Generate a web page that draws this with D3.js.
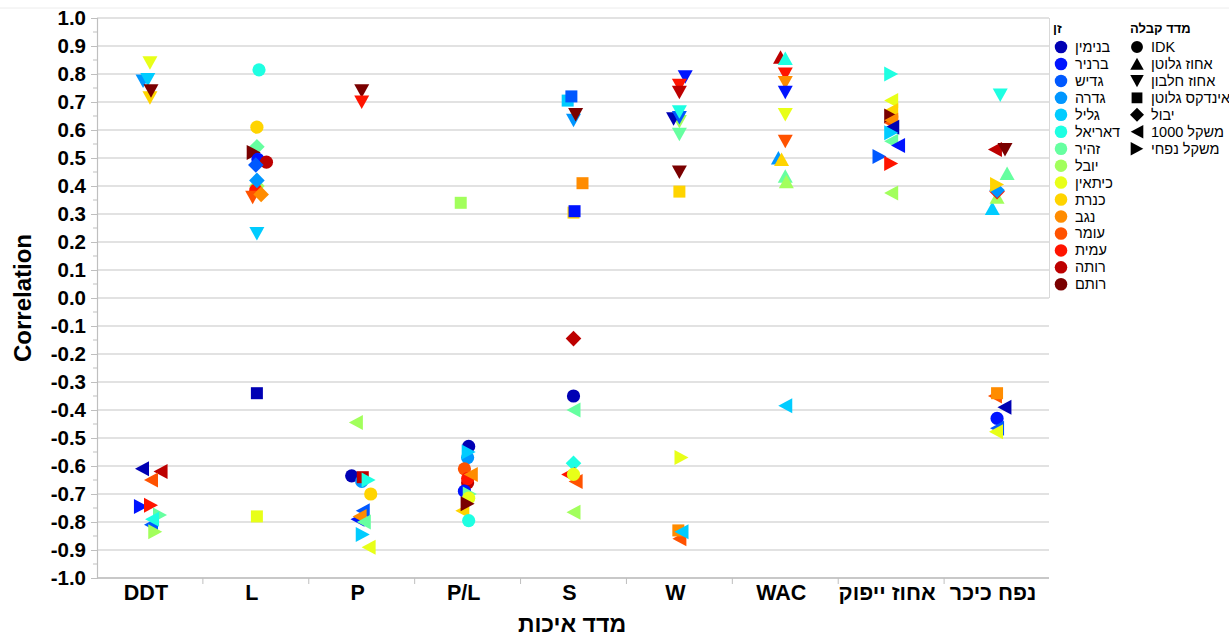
<!DOCTYPE html>
<html><head><meta charset="utf-8">
<script src="https://cdn.jsdelivr.net/npm/d3@7"></script>
<style>body{margin:0;background:#fff;}svg{display:block;font-family:"Liberation Sans",Arial,sans-serif;}</style>
</head><body>
<svg id="chart" width="1229" height="637"></svg>
<script>
// ---------- data ----------
const categories = ["DDT","L","P","P/L","S","W","WAC","אחוז ייפוק","נפח כיכר"];
const varieties = ["בנימין","ברניר","גדיש","גדרה","גליל","דאריאל","זהיר","יובל","כיתאין","כנרת","נגב","עומר","עמית","רותה","רותם"];
const varietyColors = ["#0000b4","#0014ff","#0058ff","#0096ff","#00ccff","#1effe2","#66ffa0","#a2ff5c","#e8ff18","#ffd400","#ff8c00","#ff5200","#ff1400","#bd0000","#7a0000"];
const measures = ["IDK","אחוז גלוטן","אחוז חלבון","אינדקס גלוטן","יבול","משקל 1000","משקל נפחי"];
const measureShapes = ["circle","up","down","square","diamond","left","right"];
const yTickValues = d3.range(-10, 11).map(i => i / 10);
const xTitle = "מדד איכות";
const yTitle = "Correlation";
const legendTitles = ["זן", "מדד קבלה"];

// [category, variety, measure, correlation, x offset within category (fraction of category width)]
// listed in drawing order (later = on top)
const points = [
  ["DDT","כיתאין","אחוז חלבון",0.84,0],
  ["DDT","גדרה","אחוז חלבון",0.775,-0.065],
  ["DDT","גליל","אחוז חלבון",0.78,-0.02],
  ["DDT","כנרת","אחוז חלבון",0.715,0],
  ["DDT","רותם","אחוז חלבון",0.74,0.01],
  ["DDT","בנימין","משקל 1000",-0.61,-0.075],
  ["DDT","רותה","משקל 1000",-0.62,0.10],
  ["DDT","עומר","משקל 1000",-0.65,0.01],
  ["DDT","ברניר","משקל נפחי",-0.745,-0.085],
  ["DDT","עמית","משקל נפחי",-0.74,0.01],
  ["DDT","גדיש","משקל 1000",-0.81,0.01],
  ["DDT","זהיר","משקל נפחי",-0.775,0.095],
  ["DDT","דאריאל","משקל 1000",-0.79,0.02],
  ["DDT","יובל","משקל נפחי",-0.835,0.05],

  ["L","דאריאל","IDK",0.815,0.03],
  ["L","כנרת","IDK",0.61,0.01],
  ["L","זהיר","יבול",0.54,0.01],
  ["L","רותם","משקל נפחי",0.52,-0.02],
  ["L","ברניר","IDK",0.495,0.02],
  ["L","רותה","IDK",0.485,0.10],
  ["L","גדיש","יבול",0.475,0],
  ["L","יובל","יבול",0.40,0.01],
  ["L","עמית","IDK",0.385,0],
  ["L","גדרה","יבול",0.42,0.01],
  ["L","עומר","אחוז חלבון",0.36,-0.03],
  ["L","נגב","יבול",0.37,0.05],
  ["L","גליל","אחוז חלבון",0.23,0.01],
  ["L","בנימין","אינדקס גלוטן",-0.34,0.01],
  ["L","כיתאין","אינדקס גלוטן",-0.78,0.01],

  ["P","רותם","אחוז חלבון",0.74,0],
  ["P","עמית","אחוז חלבון",0.70,0],
  ["P","יובל","משקל 1000",-0.445,-0.055],
  ["P","בנימין","IDK",-0.635,-0.095],
  ["P","גדרה","IDK",-0.655,0],
  ["P","רותה","אינדקס גלוטן",-0.64,0.01],
  ["P","דאריאל","משקל נפחי",-0.65,0.065],
  ["P","כנרת","IDK",-0.70,0.085],
  ["P","ברניר","משקל 1000",-0.79,-0.04],
  ["P","גדיש","משקל 1000",-0.76,0.01],
  ["P","נגב","משקל 1000",-0.78,-0.02],
  ["P","זהיר","משקל 1000",-0.80,0.02],
  ["P","גליל","משקל נפחי",-0.845,0.01],
  ["P","כיתאין","משקל 1000",-0.89,0.065],

  ["P/L","יובל","אינדקס גלוטן",0.34,-0.065],
  ["P/L","גדרה","IDK",-0.57,0],
  ["P/L","בנימין","IDK",-0.53,0.01],
  ["P/L","גליל","משקל נפחי",-0.55,0.01],
  ["P/L","עומר","IDK",-0.61,-0.03],
  ["P/L","רותה","IDK",-0.66,0],
  ["P/L","עמית","IDK",-0.645,0],
  ["P/L","נגב","משקל 1000",-0.63,0.03],
  ["P/L","ברניר","IDK",-0.69,-0.03],
  ["P/L","זהיר","משקל נפחי",-0.70,0.02],
  ["P/L","כיתאין","IDK",-0.715,0.01],
  ["P/L","כנרת","משקל 1000",-0.76,-0.05],
  ["P/L","רותם","משקל נפחי",-0.735,0],
  ["P/L","דאריאל","IDK",-0.795,0.01],

  ["S","גליל","אינדקס גלוטן",0.705,-0.055],
  ["S","גדיש","אינדקס גלוטן",0.72,-0.02],
  ["S","גדרה","אחוז חלבון",0.635,0],
  ["S","רותם","אחוז חלבון",0.655,0.02],
  ["S","נגב","אינדקס גלוטן",0.41,0.085],
  ["S","כנרת","אינדקס גלוטן",0.305,0],
  ["S","ברניר","אינדקס גלוטן",0.31,0.01],
  ["S","רותה","יבול",-0.145,0],
  ["S","בנימין","IDK",-0.35,0],
  ["S","זהיר","משקל 1000",-0.40,0],
  ["S","דאריאל","יבול",-0.59,0],
  ["S","עמית","משקל 1000",-0.63,-0.05],
  ["S","עומר","משקל 1000",-0.655,0.02],
  ["S","כיתאין","IDK",-0.63,0],
  ["S","יובל","משקל 1000",-0.765,0],

  ["W","ברניר","אחוז חלבון",0.79,0.055],
  ["W","עמית","אחוז חלבון",0.76,0],
  ["W","רותה","אחוז חלבון",0.735,0],
  ["W","יובל","אחוז חלבון",0.63,0],
  ["W","בנימין","אחוז חלבון",0.64,-0.055],
  ["W","גדיש","אחוז חלבון",0.645,0],
  ["W","דאריאל","אחוז חלבון",0.665,0],
  ["W","זהיר","אחוז חלבון",0.585,0],
  ["W","רותם","אחוז חלבון",0.45,0],
  ["W","כנרת","אינדקס גלוטן",0.38,0],
  ["W","כיתאין","משקל נפחי",-0.57,0.02],
  ["W","עומר","משקל 1000",-0.86,0],
  ["W","נגב","אינדקס גלוטן",-0.83,-0.01],
  ["W","גליל","משקל 1000",-0.835,0.02],

  ["WAC","רותה","אחוז גלוטן",0.86,-0.045],
  ["WAC","דאריאל","אחוז גלוטן",0.855,0],
  ["WAC","עמית","אחוז חלבון",0.80,0],
  ["WAC","נגב","אחוז חלבון",0.77,0],
  ["WAC","ברניר","אחוז חלבון",0.735,0],
  ["WAC","כיתאין","אחוז חלבון",0.655,0],
  ["WAC","עומר","אחוז חלבון",0.56,0],
  ["WAC","גדרה","אחוז גלוטן",0.50,-0.065],
  ["WAC","כנרת","אחוז גלוטן",0.495,-0.035],
  ["WAC","זהיר","אחוז גלוטן",0.435,0],
  ["WAC","יובל","אחוז גלוטן",0.415,0.01],
  ["WAC","גליל","משקל 1000",-0.385,0],

  ["אחוז ייפוק","דאריאל","משקל נפחי",0.80,0],
  ["אחוז ייפוק","כיתאין","משקל 1000",0.705,0],
  ["אחוז ייפוק","כנרת","משקל 1000",0.67,0],
  ["אחוז ייפוק","רותם","משקל נפחי",0.65,0],
  ["אחוז ייפוק","עומר","משקל 1000",0.625,0],
  ["אחוז ייפוק","נגב","משקל 1000",0.635,0],
  ["אחוז ייפוק","בנימין","משקל 1000",0.61,0.01],
  ["אחוז ייפוק","גליל","משקל נפחי",0.59,0],
  ["אחוז ייפוק","זהיר","משקל 1000",0.56,0],
  ["אחוז ייפוק","ברניר","משקל 1000",0.545,0.065],
  ["אחוז ייפוק","גדיש","משקל נפחי",0.505,-0.11],
  ["אחוז ייפוק","עמית","משקל נפחי",0.48,0],
  ["אחוז ייפוק","יובל","משקל 1000",0.375,0],

  ["נפח כיכר","דאריאל","אחוז חלבון",0.725,0.03],
  ["נפח כיכר","רותה","משקל 1000",0.53,-0.02],
  ["נפח כיכר","רותם","אחוז חלבון",0.53,0.075],
  ["נפח כיכר","זהיר","אחוז גלוטן",0.445,0.095],
  ["נפח כיכר","גליל","אחוז גלוטן",0.32,-0.045],
  ["נפח כיכר","יובל","אחוז גלוטן",0.36,0],
  ["נפח כיכר","עמית","יבול",0.38,0],
  ["נפח כיכר","גדרה","יבול",0.385,0],
  ["נפח כיכר","כנרת","משקל נפחי",0.405,0],
  ["נפח כיכר","עומר","משקל 1000",-0.35,-0.02],
  ["נפח כיכר","נגב","אינדקס גלוטן",-0.34,0],
  ["נפח כיכר","בנימין","משקל 1000",-0.39,0.07],
  ["נפח כיכר","ברניר","IDK",-0.43,0],
  ["נפח כיכר","גדיש","משקל 1000",-0.465,0],
  ["נפח כיכר","כיתאין","משקל 1000",-0.478,-0.01]
];

// ---------- drawing ----------
const svg = d3.select("#chart");
const plotLeft = 97, plotRight = 1050, plotTop = 18, plotBottom = 578;

const x = d3.scaleBand().domain(categories).range([plotLeft, plotRight]).padding(0);
const y = d3.scaleLinear().domain([-1, 1]).range([plotBottom, plotTop]);
const colorOf = d3.scaleOrdinal().domain(varieties).range(varietyColors);
const shapeOf = d3.scaleOrdinal().domain(measures).range(measureShapes);

function shapePath(type, k) {
  k = k || 1;
  const p = (arr) => "M" + arr.map(a => (a[0]*k).toFixed(2) + "," + (a[1]*k).toFixed(2)).join("L") + "Z";
  switch (type) {
    case "circle": return d3.symbol(d3.symbolCircle, Math.PI * 6.6 * 6.6 * k * k)();
    case "up": return p([[0,-7],[7.5,6.5],[-7.5,6.5]]);
    case "down": return p([[0,7],[7.5,-6.5],[-7.5,-6.5]]);
    case "left": return p([[-7,0],[7,-7.5],[7,7.5]]);
    case "right": return p([[7,0],[-7,-7.5],[-7,7.5]]);
    case "square": return p([[-6,-6],[6,-6],[6,6],[-6,6]]);
    case "diamond": return p([[0,-7.8],[7.8,0],[0,7.8],[-7.8,0]]);
  }
}

// top faint border
svg.append("line").attr("x1", 0).attr("x2", 1229).attr("y1", 8).attr("y2", 8)
  .attr("stroke", "#ececec").attr("stroke-width", 1);

// gridlines
svg.append("g").selectAll("line").data(yTickValues).join("line")
  .attr("x1", plotLeft).attr("x2", plotRight - 1)
  .attr("y1", d => y(d)).attr("y2", d => y(d))
  .attr("stroke", "#d9d9d9").attr("stroke-width", 1.3);

// y axis
const yAxis = d3.axisLeft(y).tickValues(yTickValues).tickSize(6).tickPadding(5)
  .tickFormat(d => (Math.abs(d) < 1e-9 ? 0 : d).toFixed(1));
const gy = svg.append("g").attr("transform", `translate(${plotLeft},0)`).call(yAxis);
gy.select(".domain").attr("stroke", "#bfbfbf").attr("stroke-width", 1.2);
gy.selectAll(".tick line").attr("stroke", "#bfbfbf");
gy.selectAll(".tick text").attr("font-size", 20.5).attr("font-weight", "bold")
  .attr("fill", "#000").attr("font-family", "'Liberation Sans', Arial, sans-serif");
// minor ticks
svg.append("g").selectAll("line").data(yTickValues.slice(0, -1).map(v => v + 0.05)).join("line")
  .attr("x1", plotLeft - 4).attr("x2", plotLeft)
  .attr("y1", d => y(d)).attr("y2", d => y(d))
  .attr("stroke", "#bfbfbf");

// x axis
svg.append("line").attr("x1", plotLeft).attr("x2", plotRight - 1)
  .attr("y1", plotBottom).attr("y2", plotBottom).attr("stroke", "#bfbfbf").attr("stroke-width", 1.3);
svg.append("g").selectAll("line").data(categories.slice(1)).join("line")
  .attr("x1", d => x(d)).attr("x2", d => x(d))
  .attr("y1", plotBottom).attr("y2", plotBottom + 6).attr("stroke", "#bfbfbf");
svg.append("g").selectAll("text").data(categories).join("text")
  .attr("x", d => x(d) + x.bandwidth() / 2 - 4)
  .attr("y", plotBottom + 22)
  .attr("text-anchor", "middle")
  .attr("font-size", 21.5).attr("font-weight", "bold").attr("fill", "#000")
  .text(d => d);

// axis titles
svg.append("text").attr("x", 572).attr("y", 632).attr("text-anchor", "middle")
  .attr("font-size", 23).attr("font-weight", "bold").text(xTitle);
svg.append("text").attr("transform", "translate(31,298) rotate(-90)").attr("text-anchor", "middle")
  .attr("font-size", 24).attr("font-weight", "bold").text(yTitle);

// points
svg.append("g").selectAll("path").data(points).join("path")
  .attr("transform", d => `translate(${x(d[0]) + x.bandwidth() * (0.5 + d[4])},${y(d[3])})`)
  .attr("d", d => shapePath(shapeOf(d[2])))
  .attr("fill", d => colorOf(d[1]));

// legend
const legend = svg.append("g");
legend.append("line").attr("x1", 1049.5).attr("x2", 1049.5).attr("y1", 18).attr("y2", 298)
  .attr("stroke", "#d9d9d9");
const rowY = i => 47 + i * 16.95;
legend.append("text").attr("x", 1053).attr("y", 33).attr("font-size", 13).attr("font-weight", "bold").text(legendTitles[0]);
legend.append("text").attr("x", 1130).attr("y", 33).attr("font-size", 13).attr("font-weight", "bold").text(legendTitles[1]);
const lv = legend.append("g").selectAll("g").data(varieties).join("g")
  .attr("transform", (d, i) => `translate(1061,${rowY(i)})`);
lv.append("path").attr("d", shapePath("circle", 0.95)).attr("fill", d => colorOf(d));
lv.append("text").attr("x", 14).attr("y", 5).attr("font-size", 14.5).text(d => d);
const lm = legend.append("g").selectAll("g").data(measures).join("g")
  .attr("transform", (d, i) => `translate(1137,${rowY(i)})`);
lm.append("path").attr("d", d => shapePath(shapeOf(d), 0.9)).attr("fill", "#000");
lm.append("text").attr("x", 14).attr("y", 5).attr("font-size", 14.5).attr("direction", "rtl")
  .attr("text-anchor", "end").text(d => d);
</script>
</body></html>
